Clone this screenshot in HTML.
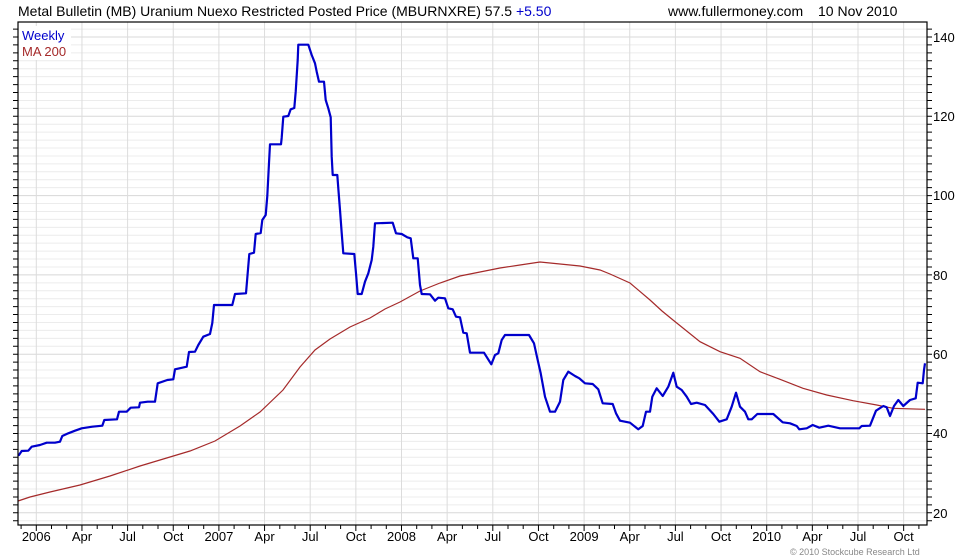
<!DOCTYPE html>
<html><head><meta charset="utf-8"><style>
body{margin:0;background:#fff;}
svg{display:block;font-family:"Liberation Sans",Arial,sans-serif;}
</style></head><body>
<svg width="980" height="560" viewBox="0 0 980 560" xmlns="http://www.w3.org/2000/svg">
<rect width="980" height="560" fill="#fff"/>
<path fill="none" stroke="#ececec" stroke-width="1" d="M18 29.07H927M18 44.93H927M18 52.86H927M18 60.79H927M18 68.72H927M18 76.65H927M18 84.58H927M18 92.51H927M18 100.44H927M18 108.37H927M18 124.23H927M18 132.16H927M18 140.09H927M18 148.02H927M18 155.95H927M18 163.88H927M18 171.81H927M18 179.74H927M18 187.67H927M18 203.53H927M18 211.46H927M18 219.39H927M18 227.32H927M18 235.25H927M18 243.18H927M18 251.11H927M18 259.04H927M18 266.97H927M18 282.83H927M18 290.76H927M18 298.69H927M18 306.62H927M18 314.55H927M18 322.48H927M18 330.41H927M18 338.34H927M18 346.27H927M18 362.13H927M18 370.06H927M18 377.99H927M18 385.92H927M18 393.85H927M18 401.78H927M18 409.71H927M18 417.64H927M18 425.57H927M18 441.43H927M18 449.36H927M18 457.29H927M18 465.22H927M18 473.15H927M18 481.08H927M18 489.01H927M18 496.94H927M18 504.87H927M18 520.73H927"/>
<path fill="none" stroke="#d8d8d8" stroke-width="1" d="M18 37H927M18 116.3H927M18 195.6H927M18 274.9H927M18 354.2H927M18 433.5H927M18 512.8H927"/>
<path fill="none" stroke="#dcdcdc" stroke-width="1" d="M36.3 22V525M81.95 22V525M127.6 22V525M173.25 22V525M218.9 22V525M264.55 22V525M310.2 22V525M355.85 22V525M401.5 22V525M447.15 22V525M492.8 22V525M538.45 22V525M584.1 22V525M629.75 22V525M675.4 22V525M721.05 22V525M766.7 22V525M812.35 22V525M858 22V525M903.65 22V525"/>
<path fill="none" stroke="#000" stroke-width="1" d="M13 29.07H18M13 37H18M13 44.93H18M13 52.86H18M13 60.79H18M13 68.72H18M13 76.65H18M13 84.58H18M13 92.51H18M13 100.44H18M13 108.37H18M13 116.3H18M13 124.23H18M13 132.16H18M13 140.09H18M13 148.02H18M13 155.95H18M13 163.88H18M13 171.81H18M13 179.74H18M13 187.67H18M13 195.6H18M13 203.53H18M13 211.46H18M13 219.39H18M13 227.32H18M13 235.25H18M13 243.18H18M13 251.11H18M13 259.04H18M13 266.97H18M13 274.9H18M13 282.83H18M13 290.76H18M13 298.69H18M13 306.62H18M13 314.55H18M13 322.48H18M13 330.41H18M13 338.34H18M13 346.27H18M13 354.2H18M13 362.13H18M13 370.06H18M13 377.99H18M13 385.92H18M13 393.85H18M13 401.78H18M13 409.71H18M13 417.64H18M13 425.57H18M13 433.5H18M13 441.43H18M13 449.36H18M13 457.29H18M13 465.22H18M13 473.15H18M13 481.08H18M13 489.01H18M13 496.94H18M13 504.87H18M13 512.8H18M13 520.73H18
M927 29.07H932M927 37H932M927 44.93H932M927 52.86H932M927 60.79H932M927 68.72H932M927 76.65H932M927 84.58H932M927 92.51H932M927 100.44H932M927 108.37H932M927 116.3H932M927 124.23H932M927 132.16H932M927 140.09H932M927 148.02H932M927 155.95H932M927 163.88H932M927 171.81H932M927 179.74H932M927 187.67H932M927 195.6H932M927 203.53H932M927 211.46H932M927 219.39H932M927 227.32H932M927 235.25H932M927 243.18H932M927 251.11H932M927 259.04H932M927 266.97H932M927 274.9H932M927 282.83H932M927 290.76H932M927 298.69H932M927 306.62H932M927 314.55H932M927 322.48H932M927 330.41H932M927 338.34H932M927 346.27H932M927 354.2H932M927 362.13H932M927 370.06H932M927 377.99H932M927 385.92H932M927 393.85H932M927 401.78H932M927 409.71H932M927 417.64H932M927 425.57H932M927 433.5H932M927 441.43H932M927 449.36H932M927 457.29H932M927 465.22H932M927 473.15H932M927 481.08H932M927 489.01H932M927 496.94H932M927 504.87H932M927 512.8H932M927 520.73H932
M21.1 525V529M36.3 525V531M51.5 525V529M66.7 525V529M81.95 525V531M97.2 525V529M112.4 525V529M127.6 525V531M142.8 525V529M158 525V529M173.25 525V531M188.5 525V529M203.7 525V529M218.9 525V531M234.1 525V529M249.3 525V529M264.55 525V531M279.8 525V529M295 525V529M310.2 525V531M325.4 525V529M340.6 525V529M355.85 525V531M371.1 525V529M386.3 525V529M401.5 525V531M416.7 525V529M431.9 525V529M447.15 525V531M462.4 525V529M477.6 525V529M492.8 525V531M508 525V529M523.2 525V529M538.45 525V531M553.7 525V529M568.9 525V529M584.1 525V531M599.3 525V529M614.5 525V529M629.75 525V531M645 525V529M660.2 525V529M675.4 525V531M690.6 525V529M705.8 525V529M721.05 525V531M736.3 525V529M751.5 525V529M766.7 525V531M781.9 525V529M797.1 525V529M812.35 525V531M827.6 525V529M842.8 525V529M858 525V531M873.2 525V529M888.4 525V529M903.65 525V531M918.9 525V529"/>
<g font-size="13" fill="#000">
<text x="933" y="42">140</text><text x="933" y="121">120</text><text x="933" y="200">100</text><text x="933" y="280">80</text><text x="933" y="359">60</text><text x="933" y="438">40</text><text x="933" y="518">20</text>
</g>
<g font-size="13" fill="#000" text-anchor="middle">
<text x="36.3" y="541">2006</text><text x="81.95" y="541">Apr</text><text x="127.6" y="541">Jul</text><text x="173.25" y="541">Oct</text><text x="218.9" y="541">2007</text><text x="264.55" y="541">Apr</text><text x="310.2" y="541">Jul</text><text x="355.85" y="541">Oct</text><text x="401.5" y="541">2008</text><text x="447.15" y="541">Apr</text><text x="492.8" y="541">Jul</text><text x="538.45" y="541">Oct</text><text x="584.1" y="541">2009</text><text x="629.75" y="541">Apr</text><text x="675.4" y="541">Jul</text><text x="721.05" y="541">Oct</text><text x="766.7" y="541">2010</text><text x="812.35" y="541">Apr</text><text x="858" y="541">Jul</text><text x="903.65" y="541">Oct</text>
</g>
<text x="18" y="16" font-size="14" fill="#000">Metal Bulletin (MB) Uranium Nuexo Restricted Posted Price (MBURNXRE) 57.5 <tspan fill="#0000cc">+5.50</tspan></text>
<text x="668" y="16" font-size="14" fill="#000">www.fullermoney.com</text>
<text x="818" y="16" font-size="14" fill="#000">10 Nov 2010</text>
<polyline fill="none" stroke="#a52a2a" stroke-width="1.2" points="18,501 30,497 50,492 80,485 110,476 140,466 160,460 190,451 215,441 240,426 260,412 283,390 300,367 315,350 330,339 350,327 370,318 385,309 400,302 420,291 440,283 460,276 480,272 500,268 520,265 540,262 560,264 580,266 600,270 610,274 630,283 650,300 662,311 673,320 700,341.7 720,351.7 740,358.3 760,371.7 780,379.3 803,388.3 826.7,395 853,400.7 876.7,405 893,408.3 925,409.3"/>
<polyline fill="none" stroke="#0000cc" stroke-width="2.2" stroke-linejoin="round" points="18,455 19,455 21.7,451 28.3,450.7 31.7,446.7 40,445 46.7,442.7 55,442.7 60,441.7 62.3,436 68.3,433.3 75,430.7 81.7,428.3 92.3,426.7 102.3,425.7 104.3,420 117,419.3 119,411.7 126.7,411.7 130.7,407.7 139,407.3 140,402.7 147.7,401.7 155,401.7 157.7,383.3 167.3,380 173.3,379.3 175,369.3 186.7,366.7 189,352 195,351.7 198.3,345 203.3,336.7 210,334 212.3,323 214,305 232.3,305 235,294 246,293.3 249.3,254 254,252.7 255.7,234 260.7,233 262.3,220 265.7,215 267.3,196 269,163 270,144.3 281,144.3 281.7,137.7 283.3,116.7 288.3,116 290.7,109.3 294.3,108 295.7,91.7 297.7,60 298.3,44.7 308.3,44.7 311.7,55 315,63.3 316.7,71.7 319,81.7 324,81.7 325.7,100 328.3,108.3 330.7,117.3 331.7,156.7 332.7,175 337.3,175 338.3,188.3 340,210 341.7,233 343.3,253.3 354.3,254 356,273.3 357.7,294 361.7,294 365,281.7 368.3,273.3 371.7,260 373.3,246.7 375,223.3 392.7,222.7 396,233.3 401.7,234 407.3,237.3 410.7,238.3 413.3,258.3 417.7,258.3 420,285 421.7,294 430,294.3 435,300.7 438.3,297.7 445,298.3 448.3,308.3 452.7,309.3 456,316.7 460,317.3 463.3,332.7 466.7,333.3 470,352.7 484,352.7 491.3,364.3 495,355 498.3,353.3 501.7,340 505,335 529,335 534,343.3 537.3,358.3 540.7,373.3 545,396.7 550,411.7 555,411.7 560,401.7 563.3,380 568.3,371.7 575,376 579.3,378.3 585,383.3 592.7,384 598.3,389.3 602.7,403.3 612.7,404 616,413.3 620,420.7 630,422.7 638.3,429.3 642.7,426 646,411.7 650,411.7 652.3,396.7 656.7,388.3 662.7,396 668.3,386.7 673.3,372.7 676.7,386.7 681.7,390 686.7,396.7 691,404 696.7,402.7 705,405 713.3,414 719.3,421.7 726.7,419.3 731.7,406.7 736,392.7 740,406.7 745,411.7 748.3,419.3 751.7,419.3 757.3,414 773.3,414 782.7,422.3 790,423.3 796.7,426 799.3,429.3 806.7,428.3 812.7,425 819.3,427.7 828.3,425.7 840,428.3 859.3,428.3 861.7,426 870,425.7 876,410.7 883.3,406 886.7,407.3 890,416 894,406 898.3,400 903.3,406 910,400 915.7,398.3 917.7,382.7 922.7,383.3 924,370 925,363.3"/>
<rect x="19" y="26" width="52" height="34" fill="#fff"/>
<text x="22" y="40" font-size="13" fill="#0000cc">Weekly</text>
<text x="22" y="56" font-size="13" fill="#a52a2a">MA 200</text>
<rect x="18" y="22" width="909" height="503" fill="none" stroke="#000" stroke-width="1.2"/>
<text x="790" y="555" font-size="9" fill="#888">© 2010 Stockcube Research Ltd</text>
</svg>
</body></html>
